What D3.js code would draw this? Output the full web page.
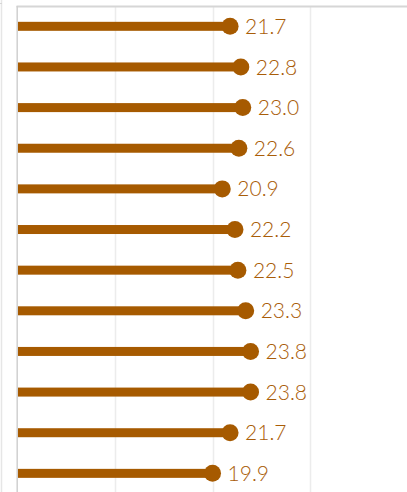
<!DOCTYPE html>
<html>
<head>
<meta charset="utf-8">
<script src="https://cdn.jsdelivr.net/npm/d3@7.9.0/dist/d3.min.js"></script>
<style>
  html, body { margin: 0; padding: 0; background: #fff; overflow: hidden; }
  svg { display: block; }
</style>
</head>
<body>
<svg id="chart" width="407" height="492"></svg>
<script>
const categories = ['Jan', 'Feb', 'Mar', 'Apr', 'May', 'Jun', 'Jul', 'Aug', 'Sep', 'Oct', 'Nov', 'Dec'];
const values = [21.7, 22.8, 23.0, 22.6, 20.9, 22.2, 22.5, 23.3, 23.8, 23.8, 21.7, 19.9];
const gridTicks = [10, 20, 30, 40];

const color = '#a65a00';

const svg = d3.select('#chart');

let x = d3.scaleLinear()
  .domain([0, 40])
  .range([18.5, 408.5]);

let y = d3.scaleBand()
  .domain(categories)
  .range([6, 6 + 12 * 40.64])
  .padding(0);

// faint edge of the neighbouring pane
svg.append('line')
  .attr('x1', 1.5).attr('x2', 1.5)
  .attr('y1', 0).attr('y2', 492)
  .attr('stroke', '#e6e6e6')
  .attr('stroke-width', 1.5);
svg.append('line')
  .attr('x1', 0).attr('x2', 2)
  .attr('y1', 3.5).attr('y2', 3.5)
  .attr('stroke', '#d6d6d6');

// gridlines
svg.append('g')
  .selectAll('line')
  .data(gridTicks)
  .join('line')
  .attr('x1', (d) => Math.round(x(d)) - 0.5).attr('x2', (d) => Math.round(x(d)) - 0.5)
  .attr('y1', 6).attr('y2', 492)
  .attr('stroke', '#ececec')
  .attr('stroke-width', 1.5);

// frame
svg.append('line')
  .attr('x1', 16.5).attr('x2', 407)
  .attr('y1', 6.5).attr('y2', 6.5)
  .attr('stroke', '#d6d6d6')
  .attr('stroke-width', 2);
svg.append('line')
  .attr('x1', 17.2).attr('x2', 17.2)
  .attr('y1', 6).attr('y2', 492)
  .attr('stroke', '#d0d0d0')
  .attr('stroke-width', 1.5);

let rows = values.map((v, i) => ({ label: categories[i], value: v }));
const cy = (d) => y(d.label) + y.bandwidth() / 2;

svg.append('g')
  .selectAll('rect')
  .data(rows)
  .join('rect')
  .attr('x', 18)
  .attr('y', (d) => cy(d) - 4.5)
  .attr('width', (d) => x(d.value) - 18)
  .attr('height', 9)
  .attr('fill', color);

svg.append('g')
  .selectAll('circle')
  .data(rows)
  .join('circle')
  .attr('cx', (d) => x(d.value))
  .attr('cy', cy)
  .attr('r', 8.5)
  .attr('fill', color);

svg.append('g')
  .selectAll('text')
  .data(rows)
  .join('text')
  .attr('x', (d) => x(d.value) + 15)
  .attr('y', cy)
  .attr('dy', '0.36em')
  .attr('fill', '#a95d08')
  .attr('font-family', 'Lato, sans-serif')
  .attr('font-weight', 300)
  .attr('font-size', 21)
  .text((d) => d.value.toFixed(1));
</script>
</body>
</html>
